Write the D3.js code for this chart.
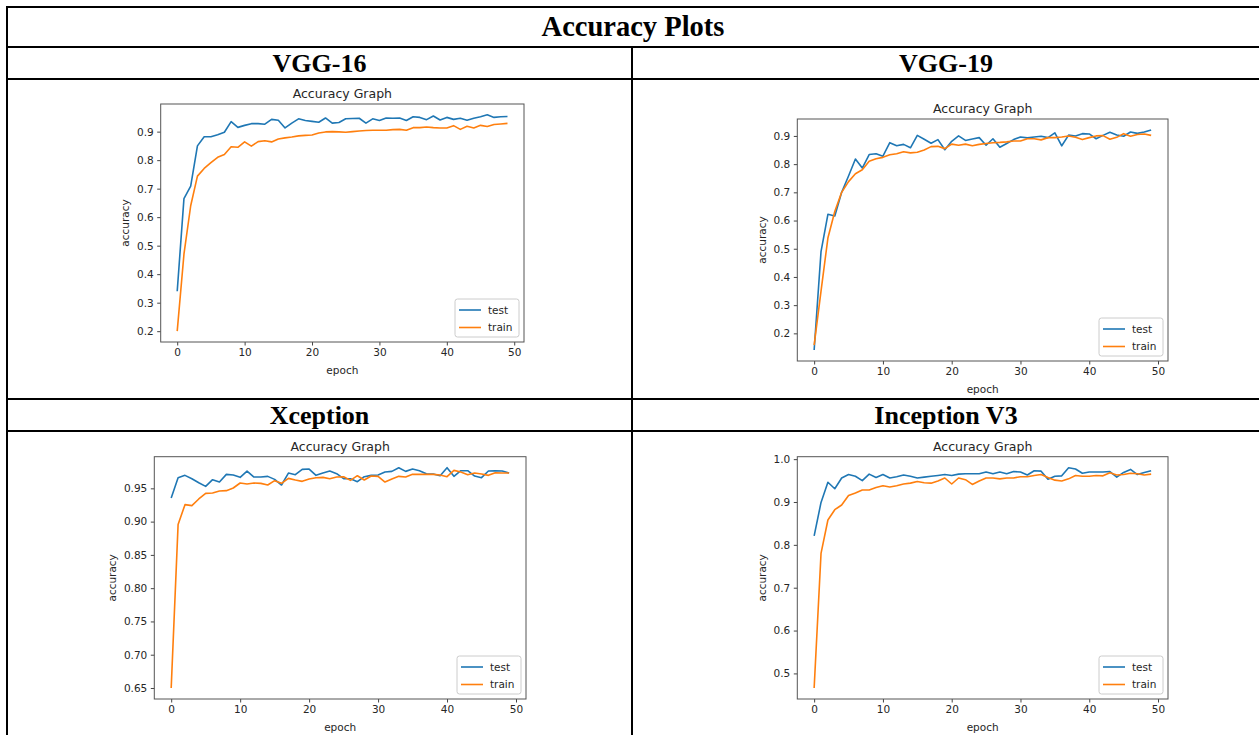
<!DOCTYPE html>
<html>
<head>
<meta charset="utf-8">
<script src="https://cdn.jsdelivr.net/npm/d3@7"></script>
<style>
  body { margin: 0; background: #fff; }
  .cell-title { font-family: "Liberation Serif", "Times New Roman", serif; font-weight: bold; font-size: 26px; text-anchor: middle; fill: #000; }
  .tick text { font-family: "DejaVu Sans", sans-serif; font-size: 10.5px; fill: #262626; }
  .tick line { stroke: #444; }
  .plot-title { font-family: "DejaVu Sans", sans-serif; font-size: 12.5px; fill: #262626; text-anchor: middle; }
  .axis-label { font-family: "DejaVu Sans", sans-serif; font-size: 10.5px; fill: #262626; text-anchor: middle; }
  .legend text { font-family: "DejaVu Sans", sans-serif; font-size: 10.5px; fill: #262626; }
</style>
</head>
<body>
<svg id="chart" width="1259" height="735"></svg>
<script>
// accuracy per epoch (index = epoch)
const vgg16Test = [0.34, 0.665, 0.709, 0.85, 0.882, 0.882, 0.889, 0.898, 0.935, 0.915,
  0.922, 0.928, 0.928, 0.926, 0.943, 0.94, 0.913, 0.93, 0.945, 0.939,
  0.936, 0.933, 0.948, 0.93, 0.932, 0.945, 0.946, 0.947, 0.93, 0.945,
  0.939, 0.948, 0.947, 0.948, 0.939, 0.952, 0.95, 0.942, 0.955, 0.941,
  0.95, 0.943, 0.947, 0.94, 0.947, 0.952, 0.959, 0.95, 0.952, 0.953];
const vgg16Train = [0.20, 0.47, 0.64, 0.744, 0.771, 0.791, 0.81, 0.82, 0.847, 0.845,
  0.864, 0.849, 0.865, 0.868, 0.864, 0.874, 0.878, 0.881, 0.885, 0.887,
  0.888, 0.895, 0.899, 0.9, 0.899, 0.898, 0.9, 0.902, 0.904, 0.905,
  0.905, 0.905, 0.907, 0.908, 0.905, 0.914, 0.914, 0.916, 0.914, 0.913,
  0.913, 0.921, 0.908, 0.919, 0.913, 0.922, 0.918, 0.925, 0.927, 0.929];

const vgg19Test = [0.141, 0.49, 0.622, 0.616, 0.70, 0.758, 0.818, 0.786, 0.834, 0.837,
  0.828, 0.876, 0.865, 0.87, 0.858, 0.902, 0.888, 0.874, 0.887, 0.851,
  0.881, 0.9, 0.884, 0.889, 0.894, 0.867, 0.89, 0.86, 0.873, 0.887,
  0.896, 0.893, 0.896, 0.899, 0.894, 0.911, 0.865, 0.903, 0.9, 0.908,
  0.907, 0.89, 0.902, 0.913, 0.903, 0.899, 0.914, 0.909, 0.914, 0.921];
const vgg19Train = [0.158, 0.35, 0.538, 0.632, 0.70, 0.738, 0.766, 0.78, 0.81, 0.819,
  0.824, 0.833, 0.837, 0.844, 0.84, 0.842, 0.85, 0.862, 0.863, 0.855,
  0.871, 0.867, 0.871, 0.865, 0.87, 0.873, 0.876, 0.877, 0.879, 0.882,
  0.882, 0.89, 0.89, 0.886, 0.894, 0.894, 0.896, 0.9, 0.895, 0.887,
  0.894, 0.9, 0.901, 0.888, 0.895, 0.908, 0.899, 0.905, 0.907, 0.902];

const xceptionTest = [0.9355, 0.966, 0.9695, 0.9645, 0.9585, 0.953, 0.963, 0.9595, 0.971, 0.97,
  0.9665, 0.976, 0.967, 0.967, 0.968, 0.9635, 0.955, 0.973, 0.9705, 0.9785,
  0.979, 0.9695, 0.973, 0.976, 0.972, 0.9645, 0.9645, 0.96, 0.9675, 0.9695,
  0.97, 0.9745, 0.9755, 0.981, 0.9755, 0.979, 0.9765, 0.972, 0.9715, 0.969,
  0.981, 0.968, 0.9765, 0.9765, 0.9685, 0.966, 0.976, 0.9765, 0.976, 0.973];
const xceptionTrain = [0.65, 0.8955, 0.9255, 0.924, 0.934, 0.9425, 0.943, 0.946, 0.9465, 0.9505,
  0.958, 0.9565, 0.958, 0.9575, 0.955, 0.9615, 0.9575, 0.965, 0.9625, 0.9605,
  0.964, 0.966, 0.9665, 0.9645, 0.967, 0.9675, 0.962, 0.969, 0.9625, 0.9685,
  0.968, 0.9595, 0.964, 0.968, 0.967, 0.971, 0.971, 0.971, 0.971, 0.97,
  0.9675, 0.977, 0.9745, 0.9705, 0.973, 0.9715, 0.9695, 0.9735, 0.973, 0.973];

const inceptionTest = [0.821, 0.899, 0.946, 0.931, 0.956, 0.964, 0.96, 0.95, 0.965, 0.957,
  0.964, 0.956, 0.959, 0.963, 0.96, 0.956, 0.958, 0.96, 0.962, 0.964,
  0.962, 0.965, 0.966, 0.966, 0.966, 0.97, 0.966, 0.97, 0.966, 0.971,
  0.97, 0.963, 0.973, 0.972, 0.953, 0.96, 0.961, 0.98, 0.977, 0.967,
  0.97, 0.97, 0.97, 0.971, 0.958, 0.969, 0.976, 0.964, 0.969, 0.973];
const inceptionTrain = [0.466, 0.78, 0.858, 0.882, 0.893, 0.915, 0.921, 0.928, 0.928, 0.934,
  0.938, 0.935, 0.938, 0.942, 0.944, 0.948, 0.945, 0.944, 0.949, 0.956,
  0.942, 0.956, 0.952, 0.941, 0.949, 0.956, 0.956, 0.954, 0.956, 0.956,
  0.959, 0.959, 0.962, 0.964, 0.957, 0.951, 0.949, 0.954, 0.962, 0.96,
  0.96, 0.962, 0.961, 0.968, 0.963, 0.964, 0.967, 0.966, 0.963, 0.965];

// tick labels
const epochTicks = [0, 10, 20, 30, 40, 50];
const vggTicks = [0.2, 0.3, 0.4, 0.5, 0.6, 0.7, 0.8, 0.9];
const xceptionTicks = [0.65, 0.70, 0.75, 0.80, 0.85, 0.90, 0.95];
const inceptionTicks = [0.5, 0.6, 0.7, 0.8, 0.9, 1.0];

const seriesNames = ["test", "train"];
const seriesColors = ["#1f77b4", "#ff7f0e"];

const headerTitle = "Accuracy Plots";
const panelNames = ["VGG-16", "VGG-19", "Xception", "Inception V3"];

const svg = d3.select('#chart');

// ---- table grid ----
const table = { left: 7, right: 1262, top: 7, mid: 632, rows: [47, 79, 399, 431] };

const grid = svg.append('g').attr('id', 'table');
grid.append('line')
    .attr('x1', table.left).attr('x2', table.right)
    .attr('y1', table.top).attr('y2', table.top);
table.rows.forEach(y => {
    grid.append('line')
        .attr('x1', table.left).attr('x2', table.right)
        .attr('y1', y).attr('y2', y);
});
grid.append('line')
    .attr('x1', table.left).attr('x2', table.left)
    .attr('y1', table.top - 1).attr('y2', 735);
grid.append('line')
    .attr('x1', table.mid).attr('x2', table.mid)
    .attr('y1', table.rows[0]).attr('y2', 735);
grid.selectAll('line').attr('stroke', '#000').attr('stroke-width', 2);

svg.append('text').attr('class', 'cell-title')
    .attr('x', 633).attr('y', 36)
    .style('font-size', '28.5px')
    .text(headerTitle);

const colCenters = [(table.left + table.mid) / 2, 946];
const titleBaselines = [72, 424];
panelNames.forEach((name, i) => {
    svg.append('text').attr('class', 'cell-title')
        .attr('x', colCenters[i % 2])
        .attr('y', titleBaselines[Math.floor(i / 2)])
        .text(name);
});

// ---- one matplotlib-like panel ----
function drawPanel(box, test, train, yTicks, yFormat) {
    const g = svg.append('g');

    const all = test.concat(train);
    const lo = d3.min(all), hi = d3.max(all);
    const padY = (hi - lo) * 0.05;
    const padX = (test.length - 1) * 0.05;

    const x = d3.scaleLinear()
        .domain([-padX, test.length - 1 + padX])
        .range([box.left, box.right]);
    const y = d3.scaleLinear()
        .domain([lo - padY, hi + padY])
        .range([box.bottom, box.top]);

    // lines
    const line = d3.line()
        .x((d, i) => x(i))
        .y(d => y(d));
    [test, train].forEach((s, k) => {
        g.append('path')
            .attr('d', line(s))
            .attr('fill', 'none')
            .attr('stroke', seriesColors[k])
            .attr('stroke-width', 1.6)
            .attr('stroke-linejoin', 'round');
    });

    // axes
    const xAxis = g.append('g')
        .attr('transform', `translate(0,${box.bottom})`)
        .call(d3.axisBottom(x).tickValues(epochTicks).tickSize(3.5).tickSizeOuter(0).tickPadding(3));
    const yAxis = g.append('g')
        .attr('transform', `translate(${box.left},0)`)
        .call(d3.axisLeft(y).tickValues(yTicks).tickFormat(d3.format(yFormat)).tickSize(3.5).tickSizeOuter(0).tickPadding(3.5));
    xAxis.select('.domain').remove();
    yAxis.select('.domain').remove();

    // frame
    g.append('rect')
        .attr('x', box.left).attr('y', box.top)
        .attr('width', box.right - box.left).attr('height', box.bottom - box.top)
        .attr('fill', 'none').attr('stroke', '#555').attr('stroke-width', 1);

    g.append('text').attr('class', 'plot-title')
        .attr('x', (box.left + box.right) / 2).attr('y', box.top - 6)
        .text('Accuracy Graph');

    g.append('text').attr('class', 'axis-label')
        .attr('x', (box.left + box.right) / 2).attr('y', box.bottom + 32)
        .text('epoch');

    // y label sits left of the widest tick label (bbox is in the axis group's frame)
    const yb = yAxis.node().getBBox();
    const lx = box.left + yb.x - 7.5;
    const ly = (box.top + box.bottom) / 2;
    g.append('text').attr('class', 'axis-label')
        .attr('x', lx).attr('y', ly)
        .attr('transform', `rotate(-90 ${lx} ${ly})`)
        .text('accuracy');

    // legend, lower right
    const lw = 64, lh = 38;
    const leg = g.append('g').attr('class', 'legend')
        .attr('transform', `translate(${box.right - 5 - lw},${box.bottom - 5 - lh})`);
    leg.append('rect')
        .attr('width', lw).attr('height', lh).attr('rx', 2.5)
        .attr('fill', '#fff').attr('fill-opacity', 0.8)
        .attr('stroke', '#cccccc').attr('stroke-width', 1);
    seriesNames.forEach((name, k) => {
        const yy = 11 + k * 17.5;
        leg.append('line')
            .attr('x1', 4).attr('x2', 26)
            .attr('y1', yy).attr('y2', yy)
            .attr('stroke', seriesColors[k]).attr('stroke-width', 1.6);
        leg.append('text')
            .attr('x', 33).attr('y', yy + 3.8)
            .text(name);
    });
}

drawPanel({ left: 160.7, right: 524, top: 104, bottom: 342 }, vgg16Test, vgg16Train, vggTicks, '.1f');
drawPanel({ left: 797.3, right: 1168, top: 119, bottom: 361 }, vgg19Test, vgg19Train, vggTicks, '.1f');
drawPanel({ left: 154.3, right: 526, top: 456.7, bottom: 699 }, xceptionTest, xceptionTrain, xceptionTicks, '.2f');
drawPanel({ left: 797.3, right: 1168, top: 456.7, bottom: 699 }, inceptionTest, inceptionTrain, inceptionTicks, '.1f');
</script>
</body>
</html>
